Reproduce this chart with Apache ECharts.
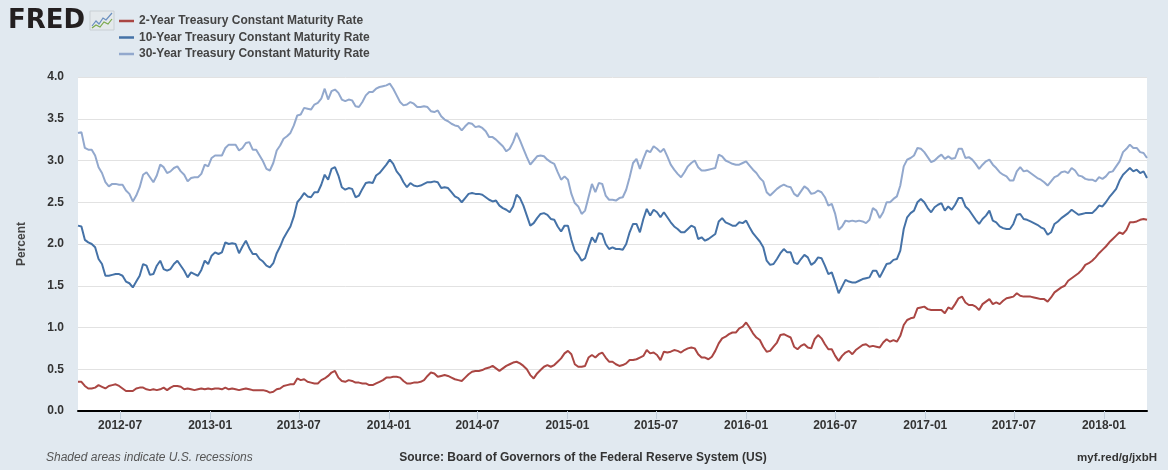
<!DOCTYPE html>
<html>
<head>
<meta charset="utf-8">
<script src="https://cdn.jsdelivr.net/npm/echarts@6/dist/echarts.min.js"></script>
<style>
html,body{margin:0;padding:0;background:#e1e9f0;}
#chart{width:1168px;height:470px;}
</style>
</head>
<body>
<div id="chart"></div>
<script>
// ---- data (weekly, weeks ending Friday, first week 2012-04-06) ----
const firstWeek = '2012-04-06';
const seriesNames = [
  '2-Year Treasury Constant Maturity Rate',
  '10-Year Treasury Constant Maturity Rate',
  '30-Year Treasury Constant Maturity Rate'
];
const xTickLabels = ['2012-07','2013-01','2013-07','2014-01','2014-07','2015-01','2015-07','2016-01','2016-07','2017-01','2017-07','2018-01'];
const yMin = 0, yMax = 4, yStep = 0.5;

const rate2y = [
  0.35,0.35,0.30,0.27,0.27,0.28,0.31,0.29,0.27,0.30, 0.31,0.32,0.30,0.27,0.24,0.24,0.24,0.27,0.28,0.28,
  0.26,0.25,0.26,0.25,0.26,0.28,0.25,0.28,0.30,0.30, 0.29,0.26,0.27,0.26,0.25,0.26,0.27,0.26,0.27,0.26,
  0.27,0.27,0.26,0.28,0.26,0.27,0.26,0.25,0.26,0.27, 0.26,0.25,
  0.25,0.25,0.25,0.24,0.22,0.23,0.26,0.27,0.30,0.31, 0.32,0.32,0.39,0.37,0.38,0.35,0.34,0.33,0.33,0.37,
  0.39,0.42,0.46,0.48,0.40,0.36,0.35,0.37,0.36,0.34, 0.34,0.33,0.33,0.31,0.31,0.33,0.35,0.37,0.40,0.40,
  0.41,0.41,0.40,0.36,0.33,0.33,0.34,0.34,0.35,0.37, 0.42,0.46,
  0.45,0.41,0.42,0.43,0.42,0.40,0.38,0.37,0.36,0.40, 0.44,0.47,0.48,0.48,0.49,0.51,0.52,0.54,0.51,0.48,
  0.51,0.54,0.56,0.58,0.59,0.57,0.54,0.50,0.43,0.39, 0.45,0.49,0.53,0.55,0.53,0.55,0.59,0.63,0.69,0.72,
  0.68,0.56,0.53,0.53,0.54,0.64,0.67,0.64,0.68,0.70, 0.64,0.59,
  0.59,0.56,0.54,0.55,0.57,0.61,0.61,0.62,0.64,0.66, 0.73,0.69,0.70,0.67,0.61,0.71,0.70,0.71,0.73,0.72,
  0.70,0.73,0.75,0.76,0.75,0.68,0.64,0.64,0.62,0.65, 0.72,0.81,0.87,0.89,0.92,0.94,0.94,0.99,1.01,1.06,
  1.00,0.93,0.88,0.85,0.77,0.71,0.72,0.77,0.82,0.91, 0.92,0.90,
  0.88,0.77,0.74,0.78,0.80,0.76,0.75,0.86,0.91,0.87, 0.80,0.74,0.74,0.66,0.60,0.66,0.70,0.72,0.68,0.73,
  0.76,0.79,0.80,0.77,0.78,0.77,0.76,0.82,0.86,0.83, 0.85,0.83,0.90,1.03,1.09,1.11,1.12,1.23,1.24,1.25,
  1.22,1.21,1.21,1.21,1.21,1.17,1.24,1.22,1.28,1.35, 1.37,1.30,
  1.27,1.27,1.25,1.21,1.28,1.31,1.34,1.28,1.30,1.28, 1.32,1.35,1.36,1.37,1.41,1.38,1.37,1.37,1.37,1.36,
  1.35,1.34,1.34,1.31,1.36,1.42,1.45,1.48,1.50,1.56, 1.59,1.62,1.65,1.69,1.75,1.77,1.80,1.84,1.89,1.93,
  1.97,2.02,2.06,2.10,2.14,2.12,2.17,2.26,2.26,2.27, 2.29,2.30,2.29
];

const rate10y = [
  2.22,2.21,2.05,2.02,2.00,1.96,1.82,1.76,1.62,1.62, 1.63,1.64,1.64,1.62,1.55,1.53,1.48,1.55,1.62,1.76,
  1.74,1.63,1.64,1.74,1.80,1.70,1.68,1.70,1.76,1.80, 1.74,1.68,1.60,1.66,1.64,1.62,1.69,1.80,1.76,1.86,
  1.90,1.88,1.90,2.02,2.00,2.01,2.00,1.89,1.97,2.04, 1.95,1.88,
  1.88,1.82,1.79,1.74,1.72,1.77,1.89,1.97,2.07,2.14, 2.21,2.33,2.50,2.55,2.61,2.57,2.56,2.62,2.62,2.71,
  2.83,2.77,2.90,2.92,2.82,2.68,2.65,2.67,2.66,2.56, 2.58,2.66,2.73,2.74,2.73,2.82,2.85,2.90,2.95,3.01,
  2.96,2.87,2.82,2.74,2.68,2.73,2.70,2.69,2.70,2.72, 2.74,2.74,
  2.75,2.74,2.67,2.68,2.67,2.62,2.57,2.55,2.50,2.55, 2.60,2.61,2.60,2.60,2.59,2.56,2.53,2.51,2.52,2.46,
  2.43,2.41,2.38,2.45,2.59,2.55,2.46,2.34,2.22,2.25, 2.31,2.36,2.37,2.35,2.30,2.29,2.21,2.15,2.22,2.22,
  2.05,1.92,1.87,1.80,1.83,1.96,2.08,2.02,2.13,2.12, 2.00,1.94,
  1.96,1.94,1.94,1.93,2.00,2.14,2.24,2.24,2.14,2.30, 2.42,2.34,2.41,2.38,2.32,2.38,2.32,2.26,2.21,2.18,
  2.14,2.14,2.18,2.22,2.20,2.06,2.08,2.04,2.06,2.09, 2.12,2.27,2.31,2.26,2.24,2.22,2.22,2.26,2.25,2.28,
  2.20,2.13,2.08,2.03,1.96,1.80,1.75,1.76,1.82,1.89, 1.94,1.90,
  1.90,1.78,1.76,1.82,1.87,1.84,1.75,1.78,1.84,1.83, 1.74,1.64,1.66,1.54,1.41,1.49,1.57,1.55,1.54,1.54,
  1.56,1.58,1.59,1.60,1.68,1.68,1.60,1.68,1.76,1.77, 1.81,1.82,1.92,2.18,2.32,2.37,2.40,2.50,2.54,2.50,
  2.43,2.38,2.44,2.47,2.49,2.40,2.45,2.41,2.47,2.55, 2.55,2.45,
  2.41,2.35,2.29,2.24,2.30,2.34,2.40,2.28,2.26,2.21, 2.19,2.18,2.18,2.24,2.35,2.36,2.30,2.29,2.27,2.25,
  2.23,2.20,2.18,2.11,2.14,2.24,2.27,2.31,2.34,2.37, 2.41,2.38,2.35,2.36,2.37,2.37,2.37,2.41,2.46,2.45,
  2.50,2.56,2.61,2.66,2.76,2.83,2.87,2.91,2.87,2.89, 2.85,2.87,2.79
];

const rate30y = [
  3.33,3.34,3.15,3.13,3.13,3.06,2.92,2.85,2.74,2.69, 2.72,2.72,2.71,2.71,2.64,2.60,2.51,2.58,2.68,2.83,
  2.86,2.80,2.74,2.82,2.95,2.92,2.85,2.87,2.91,2.93, 2.87,2.83,2.75,2.79,2.80,2.80,2.84,2.95,2.93,3.03,
  3.06,3.06,3.06,3.15,3.19,3.19,3.19,3.12,3.15,3.21, 3.22,3.13,
  3.13,3.06,2.99,2.90,2.88,2.97,3.12,3.18,3.26,3.29, 3.33,3.42,3.54,3.55,3.63,3.62,3.61,3.67,3.69,3.74,
  3.86,3.73,3.83,3.85,3.81,3.73,3.71,3.73,3.72,3.65, 3.64,3.70,3.78,3.82,3.82,3.86,3.88,3.89,3.90,3.92,
  3.86,3.78,3.70,3.66,3.67,3.70,3.68,3.64,3.64,3.65, 3.64,3.59,
  3.58,3.60,3.53,3.49,3.47,3.44,3.42,3.41,3.36,3.41, 3.45,3.44,3.40,3.41,3.39,3.35,3.28,3.28,3.25,3.21,
  3.17,3.11,3.14,3.22,3.33,3.24,3.14,3.04,2.95,3.00, 3.05,3.06,3.05,3.01,2.98,2.96,2.86,2.77,2.81,2.77,
  2.60,2.49,2.45,2.36,2.40,2.56,2.72,2.62,2.73,2.72, 2.58,2.53,
  2.53,2.52,2.55,2.56,2.65,2.80,2.97,3.02,2.90,3.02, 3.12,3.10,3.17,3.14,3.10,3.14,3.05,2.95,2.89,2.84,
  2.80,2.86,2.93,2.97,3.00,2.92,2.88,2.88,2.89,2.90, 2.91,3.07,3.05,3.00,2.98,2.96,2.95,2.95,2.97,2.99,
  2.94,2.89,2.85,2.79,2.75,2.62,2.58,2.62,2.66,2.69, 2.71,2.69,
  2.68,2.60,2.57,2.63,2.69,2.66,2.60,2.61,2.64,2.62, 2.56,2.46,2.48,2.36,2.17,2.21,2.28,2.27,2.28,2.27,
  2.28,2.27,2.25,2.29,2.43,2.40,2.31,2.38,2.50,2.50, 2.54,2.57,2.70,2.93,3.01,3.03,3.06,3.15,3.14,3.10,
  3.04,2.98,3.00,3.04,3.07,3.02,3.05,3.02,3.03,3.14, 3.14,3.03,
  3.04,3.01,2.96,2.90,2.95,2.99,3.01,2.95,2.91,2.86, 2.83,2.81,2.76,2.76,2.87,2.92,2.87,2.88,2.85,2.82,
  2.79,2.77,2.74,2.70,2.75,2.80,2.82,2.86,2.87,2.85, 2.91,2.88,2.82,2.81,2.78,2.77,2.77,2.75,2.80,2.78,
  2.81,2.86,2.87,2.93,2.99,3.10,3.14,3.19,3.15,3.15, 3.10,3.09,3.03
];

// ---- build ----
function utc(s){ const p = s.split('-').map(Number); return Date.UTC(p[0], p[1]-1, p[2] || 1); }
const WEEK = 7 * 86400000;
const t0 = utc(firstWeek);
const nWeeks = Math.max(rate2y.length, rate10y.length, rate30y.length);
const weekDates = Array.from({length: nWeeks}, (_, i) => t0 + i * WEEK);
const pairs = arr => arr.map((v, i) => [weekDates[i], v]);
const tickValues = xTickLabels.map(s => utc(s + '-01'));
const colors = ['#aa4643', '#4572a7', '#92a8cd'];
const FONT = '"Liberation Sans", Arial, sans-serif';
function ymLabel(v){ const d = new Date(v); return d.getUTCFullYear() + '-' + String(d.getUTCMonth() + 1).padStart(2, '0'); }

const chart = echarts.init(document.getElementById('chart'), null, {renderer: 'canvas'});
chart.setOption({
  animation: false,
  backgroundColor: '#e1e9f0',
  textStyle: {fontFamily: FONT},
  grid: {left: 78, right: 21, top: 77, bottom: 59, show: true, backgroundColor: '#ffffff', borderWidth: 0},
  legend: {
    orient: 'vertical', left: 114, top: 9, itemGap: 2.5,
    icon: 'rect', itemWidth: 15, itemHeight: 2.5,
    textStyle: {fontSize: 12, fontWeight: 'bold', color: '#444', lineHeight: 14, fontFamily: FONT},
    data: seriesNames
  },
  xAxis: {
    type: 'value',
    min: weekDates[0], max: weekDates[nWeeks - 1],
    axisLine: {show: true, onZero: false, lineStyle: {color: '#000', width: 2}},
    axisTick: {show: true, customValues: tickValues, length: 8, lineStyle: {color: '#c3d0dd', width: 1}},
    axisLabel: {customValues: tickValues, margin: 9, color: '#333', fontSize: 12, fontWeight: 'bold', fontFamily: FONT, formatter: ymLabel},
    splitLine: {show: false}
  },
  yAxis: {
    type: 'value', min: yMin, max: yMax, interval: yStep,
    axisLine: {show: false}, axisTick: {show: false},
    axisLabel: {margin: 14, color: '#333', fontSize: 12, fontWeight: 'bold', fontFamily: FONT, formatter: v => v.toFixed(1)},
    splitLine: {lineStyle: {color: '#e2e2e2', width: 1}}
  },
  series: [rate2y, rate10y, rate30y].map((arr, i) => ({
    name: seriesNames[i], type: 'line', data: pairs(arr),
    showSymbol: false, symbol: 'none', color: colors[i],
    lineStyle: {color: colors[i], width: 2}, z: 3 - i
  })),
  graphic: [
    {type: 'text', x: 8, y: 21.5, style: {text: 'FRED', fill: '#231f20', font: 'bold 26px "DejaVu Sans", ' + FONT, verticalAlign: 'middle', align: 'left'}},
    {type: 'rect', shape: {x: 90, y: 11, width: 24, height: 19}, style: {fill: '#e4e9ec', stroke: '#c9d0d4', lineWidth: 1}},
    {type: 'polyline', shape: {points: [[92,26],[96,21],[99,24],[103,18],[106,20],[112,13]]}, style: {stroke: '#6a8fbf', lineWidth: 1.2, fill: null}},
    {type: 'polyline', shape: {points: [[92,28],[96,25],[100,27],[104,22],[108,24],[112,19]]}, style: {stroke: '#7aa94c', lineWidth: 1.2, fill: null}},
    {type: 'text', x: 22, y: 244, rotation: Math.PI / 2, style: {text: 'Percent', fill: '#444', font: 'bold 12px ' + FONT, align: 'center', verticalAlign: 'middle'}},
    {type: 'text', x: 46, y: 458, style: {text: 'Shaded areas indicate U.S. recessions', fill: '#555', font: 'italic 12px ' + FONT, align: 'left', verticalAlign: 'middle'}},
    {type: 'text', x: 583, y: 458, style: {text: 'Source: Board of Governors of the Federal Reserve System (US)', fill: '#333', font: 'bold 12px ' + FONT, align: 'center', verticalAlign: 'middle'}},
    {type: 'text', x: 1157, y: 458, style: {text: 'myf.red/g/jxbH', fill: '#333', font: 'bold 11.5px ' + FONT, align: 'right', verticalAlign: 'middle'}}
  ]
});
</script>
</body>
</html>
